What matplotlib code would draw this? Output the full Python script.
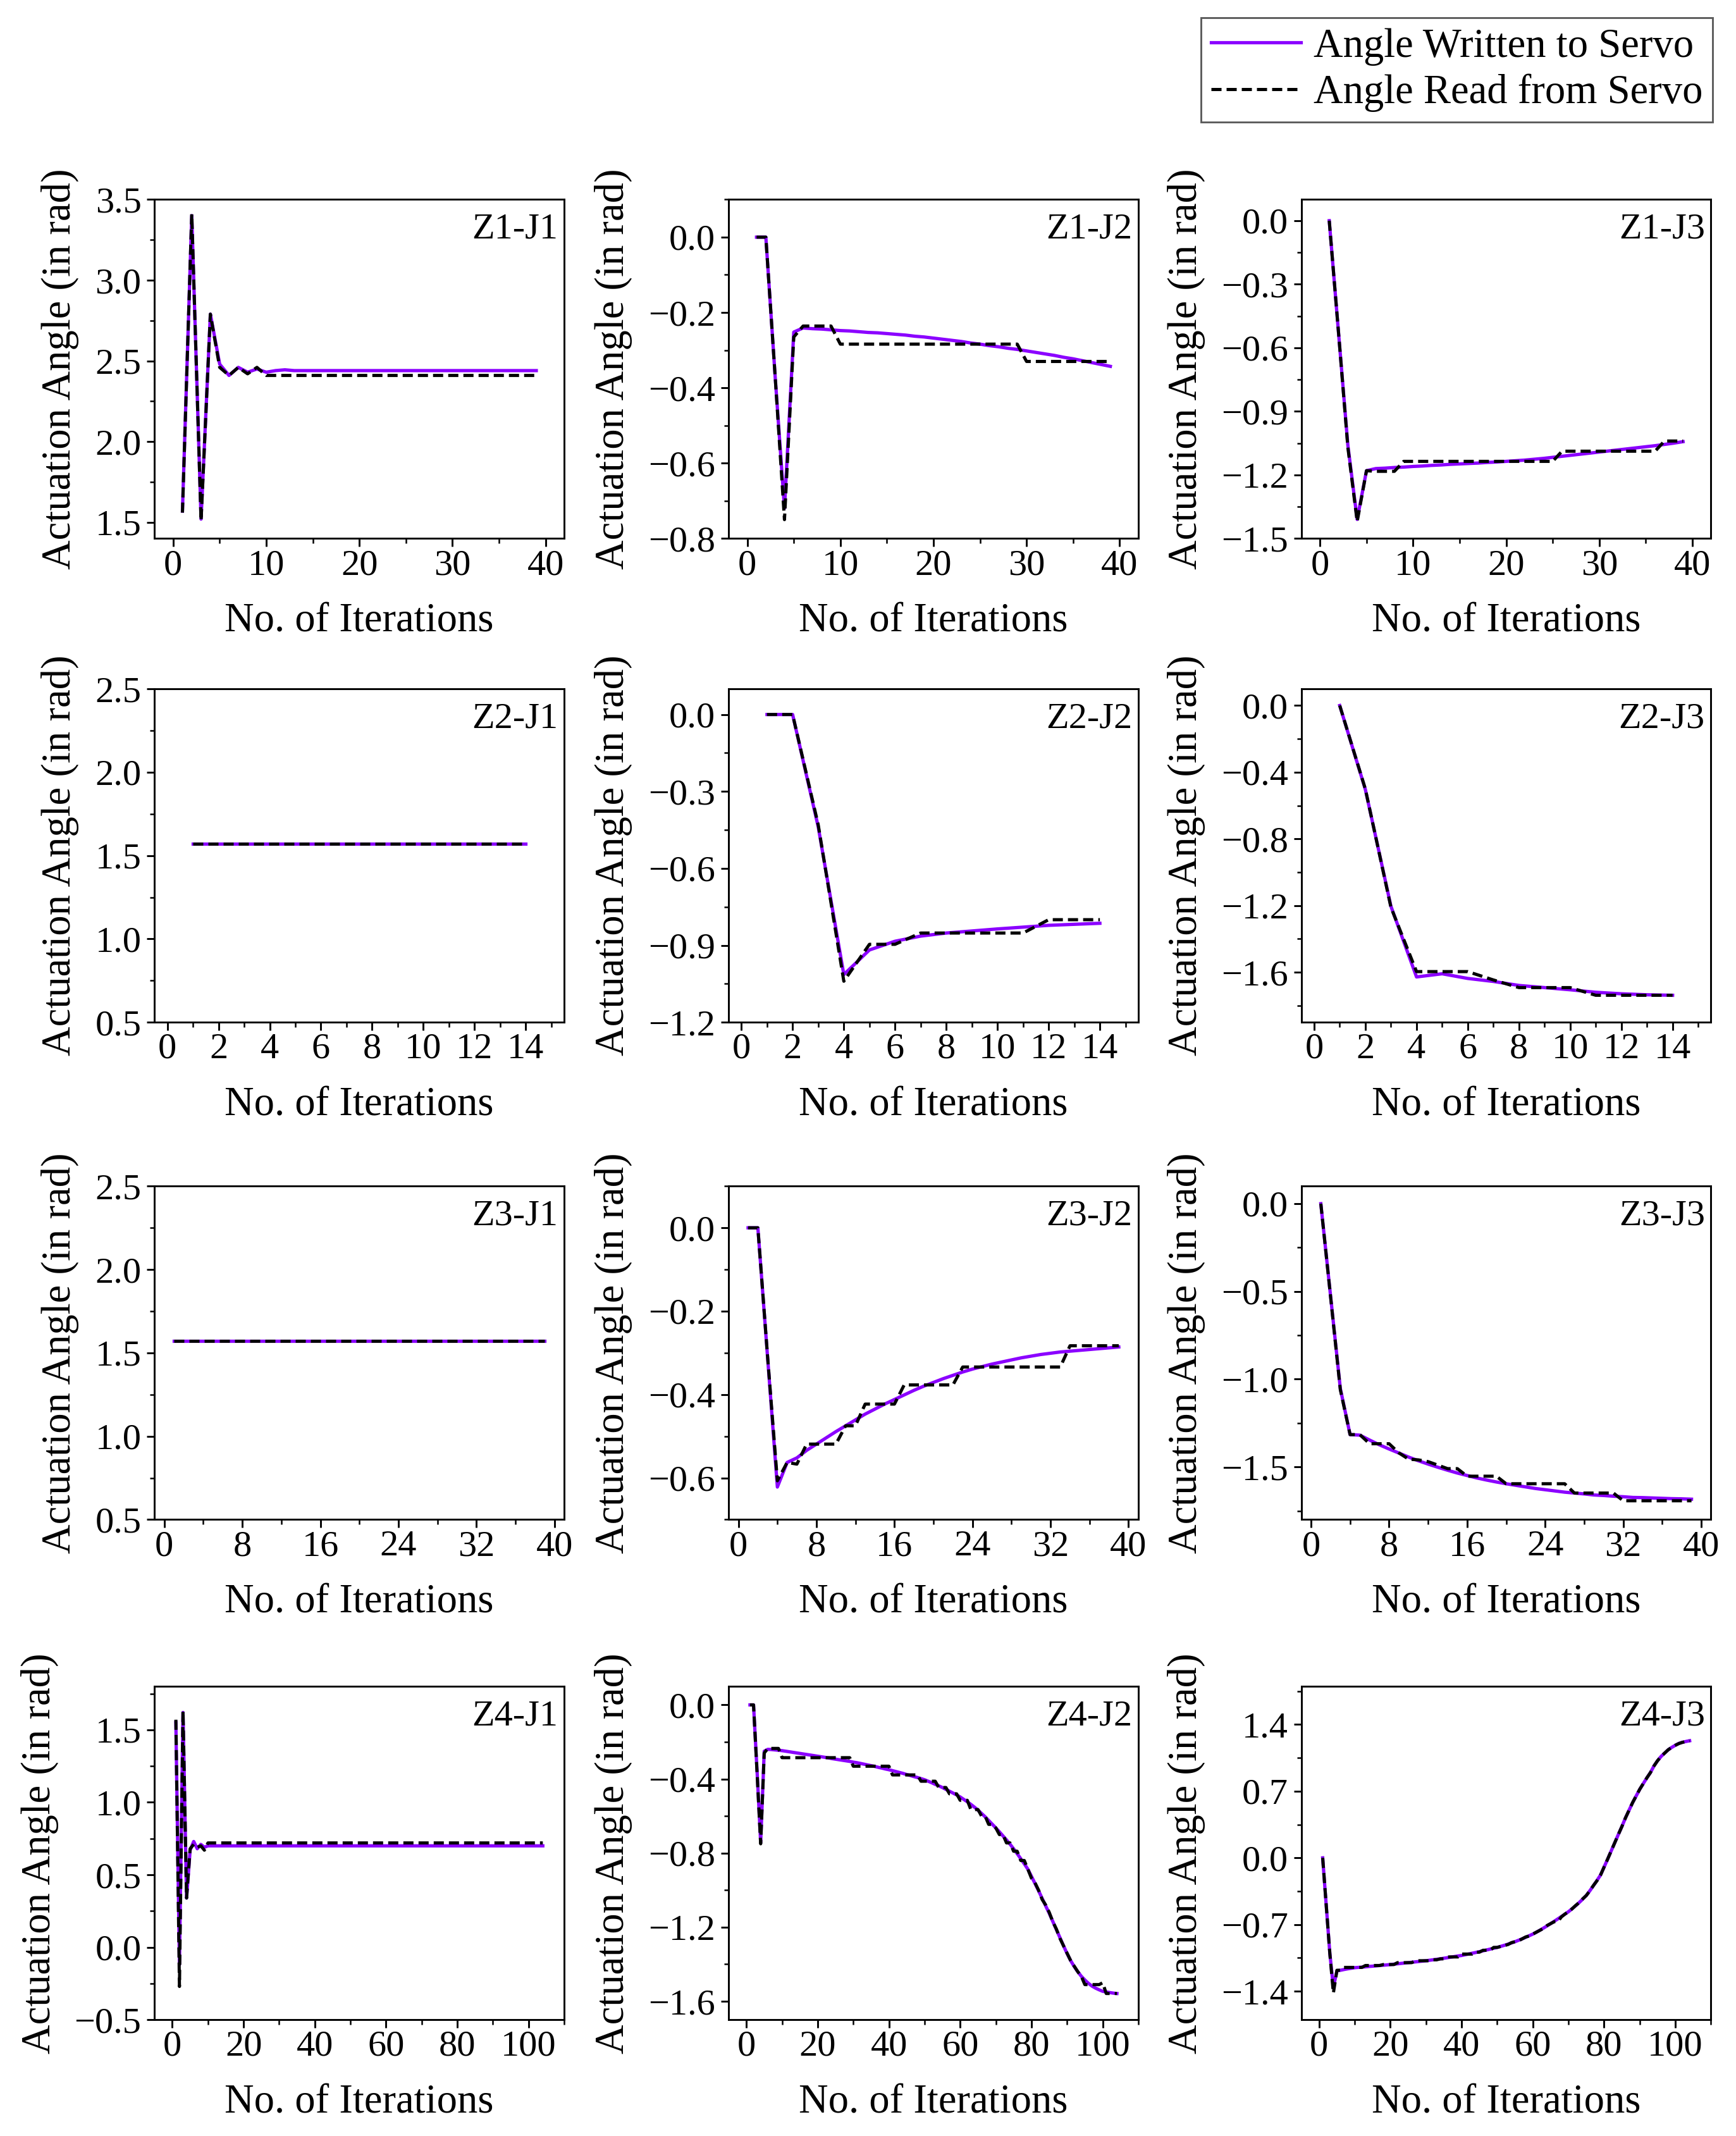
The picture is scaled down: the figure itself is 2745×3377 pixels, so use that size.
import numpy as np
import matplotlib
matplotlib.use("Agg")
import matplotlib.pyplot as plt
from matplotlib.ticker import MultipleLocator, FuncFormatter

# ---------------- Datos ----------------
# Z1
z1j1_written = [1.57, 3.40, 1.52, 2.79, 2.48, 2.41, 2.46, 2.43, 2.45, 2.43,
                2.44, 2.445, 2.44, 2.44, 2.44, 2.44, 2.44, 2.44, 2.44, 2.44,
                2.44, 2.44, 2.44, 2.44, 2.44, 2.44, 2.44, 2.44, 2.44, 2.44,
                2.44, 2.44, 2.44, 2.44, 2.44, 2.44, 2.44, 2.44, 2.44]
z1j1_read = [1.56, 3.41, 1.51, 2.79, 2.46, 2.41, 2.46, 2.42, 2.46, 2.41,
             2.41, 2.41, 2.41, 2.41, 2.41, 2.41, 2.41, 2.41, 2.41, 2.41,
             2.41, 2.41, 2.41, 2.41, 2.41, 2.41, 2.41, 2.41, 2.41, 2.41,
             2.41, 2.41, 2.41, 2.41, 2.41, 2.41, 2.41, 2.41, 2.41]

z1j2_written = [0.0, 0.0, -0.37, -0.72, -0.252, -0.241, -0.243, -0.244, -0.246, -0.248,
                -0.249, -0.251, -0.253, -0.254, -0.256, -0.258, -0.260, -0.263, -0.265, -0.268,
                -0.271, -0.274, -0.277, -0.281, -0.284, -0.288, -0.291, -0.295, -0.298, -0.302,
                -0.306, -0.310, -0.314, -0.319, -0.323, -0.328, -0.333, -0.338, -0.343]
z1j2_read = [0.0, 0.0, -0.37, -0.75, -0.265, -0.236, -0.236, -0.236, -0.236, -0.284,
             -0.284, -0.284, -0.284, -0.284, -0.284, -0.284, -0.284, -0.284, -0.284, -0.284,
             -0.284, -0.284, -0.284, -0.284, -0.284, -0.284, -0.284, -0.284, -0.284, -0.33,
             -0.33, -0.33, -0.33, -0.33, -0.33, -0.33, -0.33, -0.33, -0.33]

z1j3_written = [0.0, -0.53, -1.06, -1.41, -1.18, -1.17, -1.168, -1.165, -1.163, -1.16,
                -1.158, -1.155, -1.153, -1.15, -1.148, -1.146, -1.144, -1.141, -1.139, -1.136,
                -1.133, -1.13, -1.126, -1.122, -1.117, -1.112, -1.107, -1.102, -1.097, -1.092,
                -1.087, -1.082, -1.077, -1.072, -1.067, -1.062, -1.056, -1.05, -1.043]
z1j3_read = [0.0, -0.53, -1.07, -1.42, -1.18, -1.183, -1.183, -1.183, -1.136, -1.136,
             -1.136, -1.136, -1.136, -1.136, -1.136, -1.136, -1.136, -1.136, -1.136, -1.136,
             -1.136, -1.136, -1.136, -1.136, -1.136, -1.088, -1.088, -1.088, -1.088, -1.088,
             -1.088, -1.088, -1.088, -1.088, -1.088, -1.088, -1.04, -1.04, -1.04]

# Z2
z2j1_written = [1.571, 1.571, 1.571, 1.571, 1.571, 1.571, 1.571,
                1.571, 1.571, 1.571, 1.571, 1.571, 1.571, 1.571]
z2j1_read = [1.571, 1.571, 1.571, 1.571, 1.571, 1.571, 1.571,
             1.571, 1.571, 1.571, 1.571, 1.571, 1.571, 1.571]

z2j2_written = [0.0, 0.0, -0.438, -1.014, -0.918, -0.884, -0.864,
                -0.852, -0.844, -0.836, -0.829, -0.822, -0.818, -0.814]
z2j2_read = [0.0, 0.0, -0.43, -1.04, -0.896, -0.896, -0.852,
             -0.852, -0.852, -0.852, -0.852, -0.80, -0.80, -0.80]

z2j3_written = [0.0, -0.503, -1.204, -1.628, -1.609, -1.637, -1.655,
                -1.679, -1.692, -1.705, -1.72, -1.729, -1.735, -1.738]
z2j3_read = [0.0, -0.50, -1.21, -1.596, -1.596, -1.596, -1.646,
             -1.692, -1.692, -1.692, -1.738, -1.738, -1.738, -1.738]

# Z3
z3j1_written = [1.571, 1.571, 1.571, 1.571, 1.571, 1.571, 1.571, 1.571, 1.571, 1.571,
                1.571, 1.571, 1.571, 1.571, 1.571, 1.571, 1.571, 1.571, 1.571, 1.571,
                1.571, 1.571, 1.571, 1.571, 1.571, 1.571, 1.571, 1.571, 1.571, 1.571,
                1.571, 1.571, 1.571, 1.571, 1.571, 1.571, 1.571, 1.571, 1.571]
z3j1_read = [1.571, 1.571, 1.571, 1.571, 1.571, 1.571, 1.571, 1.571, 1.571, 1.571,
             1.571, 1.571, 1.571, 1.571, 1.571, 1.571, 1.571, 1.571, 1.571, 1.571,
             1.571, 1.571, 1.571, 1.571, 1.571, 1.571, 1.571, 1.571, 1.571, 1.571,
             1.571, 1.571, 1.571, 1.571, 1.571, 1.571, 1.571, 1.571, 1.571]

z3j2_written = [0.0, 0.0, -0.312, -0.622, -0.563, -0.552, -0.534, -0.519, -0.504, -0.489,
                -0.475, -0.461, -0.447, -0.435, -0.423, -0.412, -0.401, -0.390, -0.380, -0.371,
                -0.362, -0.354, -0.346, -0.339, -0.333, -0.327, -0.322, -0.317, -0.312, -0.308,
                -0.304, -0.301, -0.298, -0.296, -0.294, -0.292, -0.290, -0.288, -0.286]
z3j2_read = [0.0, 0.0, -0.31, -0.607, -0.563, -0.567, -0.519, -0.519, -0.519, -0.519,
             -0.475, -0.475, -0.423, -0.423, -0.423, -0.423, -0.377, -0.377, -0.377, -0.377,
             -0.377, -0.377, -0.334, -0.334, -0.334, -0.334, -0.334, -0.334, -0.334, -0.334,
             -0.334, -0.334, -0.334, -0.283, -0.283, -0.283, -0.283, -0.283, -0.283]

z3j3_written = [0.0, -0.526, -1.053, -1.316, -1.319, -1.347, -1.374, -1.398, -1.421, -1.444,
                -1.465, -1.484, -1.502, -1.519, -1.535, -1.549, -1.563, -1.575, -1.586, -1.596,
                -1.605, -1.614, -1.623, -1.630, -1.637, -1.644, -1.649, -1.654, -1.660, -1.663,
                -1.667, -1.670, -1.674, -1.675, -1.677, -1.679, -1.681, -1.682, -1.684]
z3j3_read = [0.0, -0.53, -1.06, -1.316, -1.316, -1.368, -1.368, -1.368, -1.42, -1.456,
             -1.46, -1.47, -1.49, -1.51, -1.51, -1.553, -1.553, -1.553, -1.553, -1.596,
             -1.596, -1.596, -1.596, -1.596, -1.596, -1.596, -1.649, -1.649, -1.649, -1.649,
             -1.649, -1.693, -1.693, -1.693, -1.693, -1.693, -1.693, -1.693, -1.693]

# Z4
z4j1_written = [1.55, -0.12, 1.62, 0.34, 0.67, 0.73, 0.68, 0.71, 0.69, 0.70,
                0.70, 0.70, 0.70, 0.70, 0.70, 0.70, 0.70, 0.70, 0.70, 0.70,
                0.70, 0.70, 0.70, 0.70, 0.70, 0.70, 0.70, 0.70, 0.70, 0.70,
                0.70, 0.70, 0.70, 0.70, 0.70, 0.70, 0.70, 0.70, 0.70, 0.70,
                0.70, 0.70, 0.70, 0.70, 0.70, 0.70, 0.70, 0.70, 0.70, 0.70,
                0.70, 0.70, 0.70, 0.70, 0.70, 0.70, 0.70, 0.70, 0.70, 0.70,
                0.70, 0.70, 0.70, 0.70, 0.70, 0.70, 0.70, 0.70, 0.70, 0.70,
                0.70, 0.70, 0.70, 0.70, 0.70, 0.70, 0.70, 0.70, 0.70, 0.70,
                0.70, 0.70, 0.70, 0.70, 0.70, 0.70, 0.70, 0.70, 0.70, 0.70,
                0.70, 0.70, 0.70, 0.70, 0.70, 0.70, 0.70, 0.70, 0.70, 0.70,
                0.70, 0.70, 0.70, 0.70]
z4j1_read = [1.57, -0.27, 1.63, 0.34, 0.68, 0.71, 0.69, 0.70, 0.67, 0.72,
             0.72, 0.72, 0.72, 0.72, 0.72, 0.72, 0.72, 0.72, 0.72, 0.72,
             0.72, 0.72, 0.72, 0.72, 0.72, 0.72, 0.72, 0.72, 0.72, 0.72,
             0.72, 0.72, 0.72, 0.72, 0.72, 0.72, 0.72, 0.72, 0.72, 0.72,
             0.72, 0.72, 0.72, 0.72, 0.72, 0.72, 0.72, 0.72, 0.72, 0.72,
             0.72, 0.72, 0.72, 0.72, 0.72, 0.72, 0.72, 0.72, 0.72, 0.72,
             0.72, 0.72, 0.72, 0.72, 0.72, 0.72, 0.72, 0.72, 0.72, 0.72,
             0.72, 0.72, 0.72, 0.72, 0.72, 0.72, 0.72, 0.72, 0.72, 0.72,
             0.72, 0.72, 0.72, 0.72, 0.72, 0.72, 0.72, 0.72, 0.72, 0.72,
             0.72, 0.72, 0.72, 0.72, 0.72, 0.72, 0.72, 0.72, 0.72, 0.72,
             0.72, 0.72, 0.72, 0.72]

z4j2_written = [0.0, 0.0, -0.36, -0.743, -0.25, -0.240, -0.241, -0.243, -0.245, -0.247,
                -0.250, -0.253, -0.256, -0.259, -0.262, -0.265, -0.268, -0.271, -0.274, -0.277,
                -0.280, -0.283, -0.286, -0.290, -0.293, -0.296, -0.299, -0.302, -0.305, -0.309,
                -0.312, -0.316, -0.320, -0.324, -0.328, -0.332, -0.337, -0.341, -0.346, -0.350,
                -0.355, -0.360, -0.365, -0.370, -0.376, -0.381, -0.387, -0.392, -0.398, -0.404,
                -0.412, -0.420, -0.429, -0.437, -0.446, -0.456, -0.466, -0.476, -0.486, -0.497,
                -0.510, -0.523, -0.537, -0.552, -0.568, -0.586, -0.604, -0.624, -0.644, -0.664,
                -0.685, -0.707, -0.729, -0.752, -0.777, -0.803, -0.830, -0.858, -0.887, -0.925,
                -0.964, -1.003, -1.044, -1.085, -1.125, -1.169, -1.213, -1.256, -1.300, -1.342,
                -1.380, -1.412, -1.440, -1.465, -1.485, -1.503, -1.518, -1.529, -1.538, -1.546,
                -1.550, -1.553, -1.556, -1.558]
z4j2_read = [0.0, 0.0, -0.37, -0.75, -0.26, -0.235, -0.235, -0.235, -0.235, -0.285,
             -0.285, -0.285, -0.285, -0.285, -0.285, -0.285, -0.285, -0.285, -0.285, -0.285,
             -0.285, -0.285, -0.285, -0.285, -0.285, -0.285, -0.285, -0.285, -0.285, -0.331,
             -0.331, -0.331, -0.331, -0.331, -0.331, -0.331, -0.331, -0.331, -0.331, -0.331,
             -0.378, -0.378, -0.378, -0.378, -0.378, -0.378, -0.378, -0.378, -0.412, -0.412,
             -0.412, -0.412, -0.412, -0.446, -0.446, -0.446, -0.48, -0.48, -0.48, -0.515,
             -0.515, -0.515, -0.565, -0.565, -0.565, -0.60, -0.60, -0.645, -0.645, -0.664,
             -0.70, -0.70, -0.745, -0.745, -0.79, -0.79, -0.84, -0.84, -0.887, -0.935,
             -0.96, -1.00, -1.05, -1.08, -1.12, -1.17, -1.21, -1.26, -1.30, -1.34,
             -1.38, -1.41, -1.44, -1.465, -1.51, -1.51, -1.51, -1.51, -1.51, -1.50,
             -1.558, -1.558, -1.558, -1.558]

z4j3_written = [0.0, -0.50, -1.00, -1.36, -1.186, -1.180, -1.172, -1.165, -1.159, -1.153,
                -1.150, -1.147, -1.144, -1.140, -1.137, -1.134, -1.130, -1.127, -1.124, -1.120,
                -1.116, -1.112, -1.108, -1.104, -1.100, -1.096, -1.092, -1.088, -1.084, -1.080,
                -1.075, -1.070, -1.065, -1.060, -1.054, -1.048, -1.042, -1.036, -1.030, -1.025,
                -1.017, -1.009, -1.001, -0.993, -0.985, -0.976, -0.967, -0.958, -0.949, -0.940,
                -0.929, -0.918, -0.906, -0.893, -0.880, -0.865, -0.850, -0.834, -0.817, -0.800,
                -0.780, -0.759, -0.737, -0.714, -0.690, -0.666, -0.641, -0.616, -0.591, -0.565,
                -0.535, -0.503, -0.469, -0.433, -0.395, -0.345, -0.292, -0.237, -0.180, -0.096,
                -0.012, 0.074, 0.160, 0.246, 0.330, 0.420, 0.500, 0.580, 0.650, 0.720,
                0.780, 0.840, 0.895, 0.965, 1.020, 1.065, 1.100, 1.135, 1.160, 1.182,
                1.202, 1.213, 1.222, 1.229]
z4j3_read = [0.0, -0.50, -1.00, -1.42, -1.18, -1.18, -1.15, -1.15, -1.15, -1.15,
             -1.15, -1.15, -1.13, -1.13, -1.13, -1.13, -1.13, -1.12, -1.12, -1.12,
             -1.12, -1.10, -1.10, -1.10, -1.10, -1.10, -1.08, -1.08, -1.08, -1.08,
             -1.08, -1.07, -1.07, -1.06, -1.06, -1.04, -1.04, -1.04, -1.04, -1.01,
             -1.01, -1.01, -1.01, -0.99, -0.99, -0.97, -0.97, -0.97, -0.94, -0.94,
             -0.93, -0.92, -0.91, -0.89, -0.88, -0.87, -0.85, -0.83, -0.82, -0.80,
             -0.78, -0.76, -0.74, -0.71, -0.69, -0.67, -0.67, -0.62, -0.59, -0.565,
             -0.535, -0.50, -0.47, -0.43, -0.395, -0.345, -0.29, -0.24, -0.18, -0.096,
             -0.012, 0.074, 0.16, 0.246, 0.33, 0.42, 0.50, 0.58, 0.65, 0.72,
             0.78, 0.84, 0.895, 0.965, 1.02, 1.065, 1.10, 1.135, 1.16, 1.182,
             1.20, 1.213, 1.22, 1.23]

# ---------------- Configuracion de paneles (ejes / estilo) ----------------
PANELS = [
    # (etiqueta, escrito, leido, xlim, x mayor, x menor, ylim, y mayor, y menor)
    ("Z1-J1", z1j1_written, z1j1_read, (-2, 42), 10, 5, (1.4, 3.5), 0.5, 0.25),
    ("Z1-J2", z1j2_written, z1j2_read, (-2, 42), 10, 5, (-0.8, 0.1), 0.2, 0.1),
    ("Z1-J3", z1j3_written, z1j3_read, (-2, 42), 10, 5, (-1.5, 0.1), 0.3, 0.15),
    ("Z2-J1", z2j1_written, z2j1_read, (-0.5, 15.5), 2, 1, (0.5, 2.5), 0.5, 0.25),
    ("Z2-J2", z2j2_written, z2j2_read, (-0.5, 15.5), 2, 1, (-1.2, 0.1), 0.3, 0.15),
    ("Z2-J3", z2j3_written, z2j3_read, (-0.5, 15.5), 2, 1, (-1.9, 0.1), 0.4, 0.2),
    ("Z3-J1", z3j1_written, z3j1_read, (-1, 41), 8, 4, (0.5, 2.5), 0.5, 0.25),
    ("Z3-J2", z3j2_written, z3j2_read, (-1, 41), 8, 4, (-0.7, 0.1), 0.2, 0.1),
    ("Z3-J3", z3j3_written, z3j3_read, (-1, 41), 8, 4, (-1.8, 0.1), 0.5, 0.25),
    ("Z4-J1", z4j1_written, z4j1_read, (-5, 110), 20, 10, (-0.5, 1.8), 0.5, 0.25),
    ("Z4-J2", z4j2_written, z4j2_read, (-5, 110), 20, 10, (-1.7, 0.1), 0.4, 0.2),
    ("Z4-J3", z4j3_written, z4j3_read, (-5, 110), 20, 10, (-1.7, 1.8), 0.7, 0.35),
]

COL_LEFT = [0.0890, 0.4197, 0.7496]
ROW_BOTTOM = [0.7479, 0.5214, 0.2886, 0.0544]
ROW_HEIGHT = [0.1587, 0.1561, 0.1561, 0.1561]
AX_WIDTH = 0.236

PURPLE = "#8B00FF"

plt.rcParams.update({
    "font.family": ["Liberation Serif", "DejaVu Serif"],
    "font.size": 14,
    "axes.linewidth": 0.7,
    "xtick.direction": "out",
    "ytick.direction": "out",
    "xtick.major.size": 3.0,
    "ytick.major.size": 3.0,
    "xtick.minor.size": 1.8,
    "ytick.minor.size": 1.8,
    "xtick.major.width": 0.7,
    "ytick.major.width": 0.7,
    "xtick.minor.width": 0.6,
    "ytick.minor.width": 0.6,
    "xtick.major.pad": 1.0,
    "ytick.major.pad": 2.0,
    "xtick.labelsize": 14,
    "ytick.labelsize": 14,
})


def y_fmt(v, pos):
    if abs(v) < 1e-9:
        v = 0.0
    return f"{v:.1f}".replace("-", "\u2212")


fig = plt.figure(figsize=(9.15, 11.2567), dpi=300)

for i, (tag, written, read, xlim, xmaj, xmin, ylim, ymaj, ymin) in enumerate(PANELS):
    row, col = divmod(i, 3)
    ax = fig.add_axes([COL_LEFT[col], ROW_BOTTOM[row], AX_WIDTH, ROW_HEIGHT[row]])

    x = np.arange(1, len(written) + 1)
    l1, = ax.plot(x, written, color=PURPLE, lw=1.25, solid_joinstyle="round",
                  label="Angle Written to Servo")
    l2, = ax.plot(x, read, color="black", lw=1.2, linestyle=(0, (3.2, 1.6)),
                  label="Angle Read from Servo")

    ax.set_xlim(*xlim)
    ax.set_ylim(*ylim)
    ax.xaxis.set_major_locator(MultipleLocator(xmaj))
    ax.xaxis.set_minor_locator(MultipleLocator(xmin))
    ax.yaxis.set_major_locator(MultipleLocator(ymaj))
    ax.yaxis.set_minor_locator(MultipleLocator(ymin))
    ax.yaxis.set_major_formatter(FuncFormatter(y_fmt))

    ax.set_xlabel("No. of Iterations", fontsize=15.5, labelpad=8)
    ax.set_ylabel("Actuation Angle (in rad)", fontsize=15.5, labelpad=6)
    ax.text(0.985, 0.96, tag, transform=ax.transAxes, ha="right", va="top",
            fontsize=14)

    if i == 0:
        handles = [l1, l2]

leg = fig.legend(handles=handles, loc="upper right",
                 bbox_to_anchor=(0.9866, 0.9917), borderaxespad=0,
                 fontsize=15.5, frameon=True, fancybox=False,
                 handlelength=2.2, handletextpad=0.3, labelspacing=0.2,
                 borderpad=0.25)
leg.get_frame().set_edgecolor("#333333")
leg.get_frame().set_linewidth(0.7)

fig.savefig("out.png", dpi=300)
